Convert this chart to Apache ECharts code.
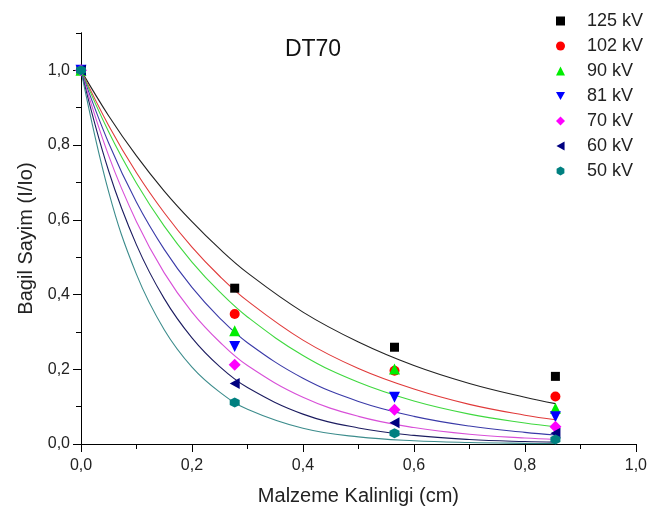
<!DOCTYPE html>
<html>
<head>
<meta charset="utf-8">
<script src="https://cdn.jsdelivr.net/npm/echarts@6/dist/echarts.min.js"></script>
<style>
  html, body { margin: 0; padding: 0; background: #fff; }
  #chart { width: 650px; height: 513px; }
</style>
</head>
<body>
<div id="chart"></div>
<script>
// Relative count vs. material thickness, DT70 sample
const voltages = ['125 kV', '102 kV', '90 kV', '81 kV', '70 kV', '60 kV', '50 kV'];
const thickness = [0, 0.277, 0.565, 0.855];

// measured relative counts (I/Io)
const counts125 = [1, 0.417, 0.259, 0.181];
const counts102 = [1, 0.348, 0.196, 0.127];
const counts90  = [1, 0.303, 0.201, 0.096];
const counts81  = [1, 0.261, 0.125, 0.073];
const counts70  = [1, 0.212, 0.092, 0.046];
const counts60  = [1, 0.162, 0.057, 0.029];
const counts50  = [1, 0.111, 0.029, 0.012];

// fitted decay curves, sampled along the thickness axis
const fitX    = [0, 0.05, 0.1, 0.15, 0.2, 0.25, 0.3, 0.4, 0.5, 0.6, 0.7, 0.8, 0.855];
const fit125 = [1, 0.878, 0.771, 0.677, 0.595, 0.522, 0.458, 0.353, 0.273, 0.210, 0.162, 0.125, 0.108];
const fit102 = [1, 0.852, 0.726, 0.619, 0.527, 0.449, 0.383, 0.278, 0.202, 0.147, 0.106, 0.077, 0.065];
const fit90  = [1, 0.835, 0.698, 0.583, 0.487, 0.407, 0.340, 0.237, 0.165, 0.115, 0.080, 0.056, 0.046];
const fit81  = [1, 0.805, 0.647, 0.521, 0.419, 0.337, 0.271, 0.176, 0.114, 0.074, 0.048, 0.031, 0.024];
const fit70  = [1, 0.771, 0.595, 0.458, 0.353, 0.273, 0.210, 0.125, 0.074, 0.044, 0.026, 0.016, 0.012];
const fit60  = [1, 0.730, 0.533, 0.389, 0.284, 0.207, 0.151, 0.080, 0.043, 0.023, 0.012, 0.0065, 0.005];
const fit50  = [1, 0.674, 0.454, 0.306, 0.206, 0.139, 0.093, 0.042, 0.019, 0.0087, 0.004, 0.0018, 0.0012];

const yMajorTicks = [0, 0.2, 0.4, 0.6, 0.8, 1.0];

const measured = [counts125, counts102, counts90, counts81, counts70, counts60, counts50];
const fitted = [fit125, fit102, fit90, fit81, fit70, fit60, fit50];

const markerColors = ['#000000', '#ff0000', '#00ee00', '#0000ff', '#ff00ff', '#000080', '#008080'];
const lineColors   = ['#222222', '#e03a3a', '#3fd83f', '#3a3aa8', '#d850d8', '#1c1c60', '#3c8c8c'];
const symbols = [
  'rect',
  'circle',
  'triangle',
  'path://M0,0 L10,0 L5,9 Z',
  'diamond',
  'path://M0,5 L9,0 L9,10 Z',
  'path://M5,0 L9.33,2.5 L9.33,7.5 L5,10 L0.67,7.5 L0.67,2.5 Z'
];
const symbolSizes = [9, 10, 11, 11, 12, [10, 11], 10];

const FONT = 'Liberation Sans, Arial, sans-serif';
const fmt = v => v.toFixed(1).replace('.', ',');

const series = [];
fitted.forEach((vals, i) => {
  series.push({
    name: voltages[i] + ' fit',
    type: 'line',
    data: fitX.map((x, k) => [x, vals[k]]),
    smooth: 0.4,
    showSymbol: false,
    silent: true,
    z: 2,
    lineStyle: { color: lineColors[i], width: 1.1 }
  });
});
measured.forEach((vals, i) => {
  series.push({
    name: voltages[i],
    type: 'scatter',
    data: thickness.map((x, k) => [x, vals[k]]),
    symbol: symbols[i],
    symbolSize: symbolSizes[i],
    z: 3,
    itemStyle: { color: markerColors[i], opacity: 1 }
  });
});

const chart = echarts.init(document.getElementById('chart'), null, { renderer: 'canvas' });
chart.setOption({
  animation: false,
  backgroundColor: '#ffffff',
  textStyle: { fontFamily: FONT },
  title: {
    text: 'DT70',
    left: 308,
    top: 33,
    textAlign: 'center',
    textStyle: { fontFamily: FONT, fontSize: 23, fontWeight: 'normal', color: '#111' }
  },
  legend: {
    data: voltages,
    orient: 'vertical',
    left: 551,
    top: 7,
    itemWidth: 9,
    itemHeight: 9,
    itemGap: 7,
    selectedMode: false,
    textStyle: { fontFamily: FONT, fontSize: 18, color: '#222', lineHeight: 18, padding: [0, 0, 0, 17] }
  },
  grid: { left: 81, right: 11, top: 33, bottom: 69, containLabel: false },
  xAxis: {
    type: 'value',
    min: 0,
    max: 1,
    interval: 0.2,
    name: 'Malzeme Kalinligi (cm)',
    nameLocation: 'middle',
    nameGap: 42,
    nameTextStyle: { fontFamily: FONT, fontSize: 20, color: '#222' },
    axisLine: { show: true, onZero: false, lineStyle: { color: '#000', width: 1 } },
    axisTick: { show: true, inside: false, length: 8, lineStyle: { color: '#000' } },
    minorTick: { show: true, splitNumber: 2, length: 5, lineStyle: { color: '#000' } },
    axisLabel: { formatter: fmt, margin: 14, fontFamily: FONT, fontSize: 16, color: '#222' },
    splitLine: { show: false },
    minorSplitLine: { show: false }
  },
  yAxis: [
    {
      type: 'value',
      min: 0,
      max: 1.1,
      interval: 0.1,
      position: 'left',
      axisLine: { show: true, onZero: false, lineStyle: { color: '#000', width: 1 } },
      axisTick: { show: true, inside: false, length: 5, lineStyle: { color: '#000' } },
      axisLabel: { show: false },
      splitLine: { show: false }
    },
    {
      type: 'value',
      min: 0,
      max: 1.1,
      interval: 0.2,
      position: 'left',
      name: 'Bagil Sayim (I/Io)',
      nameLocation: 'middle',
      nameGap: 45,
      nameTextStyle: { fontFamily: FONT, fontSize: 20, color: '#222' },
      axisLine: { show: true, onZero: false, lineStyle: { color: '#000', width: 1 } },
      axisTick: { show: true, inside: false, length: 8, customValues: yMajorTicks, lineStyle: { color: '#000' } },
      axisLabel: {
        customValues: yMajorTicks,
        formatter: fmt,
        margin: 11,
        fontFamily: FONT,
        fontSize: 16,
        color: '#222'
      },
      splitLine: { show: false }
    }
  ],
  series: series
});
</script>
</body>
</html>
